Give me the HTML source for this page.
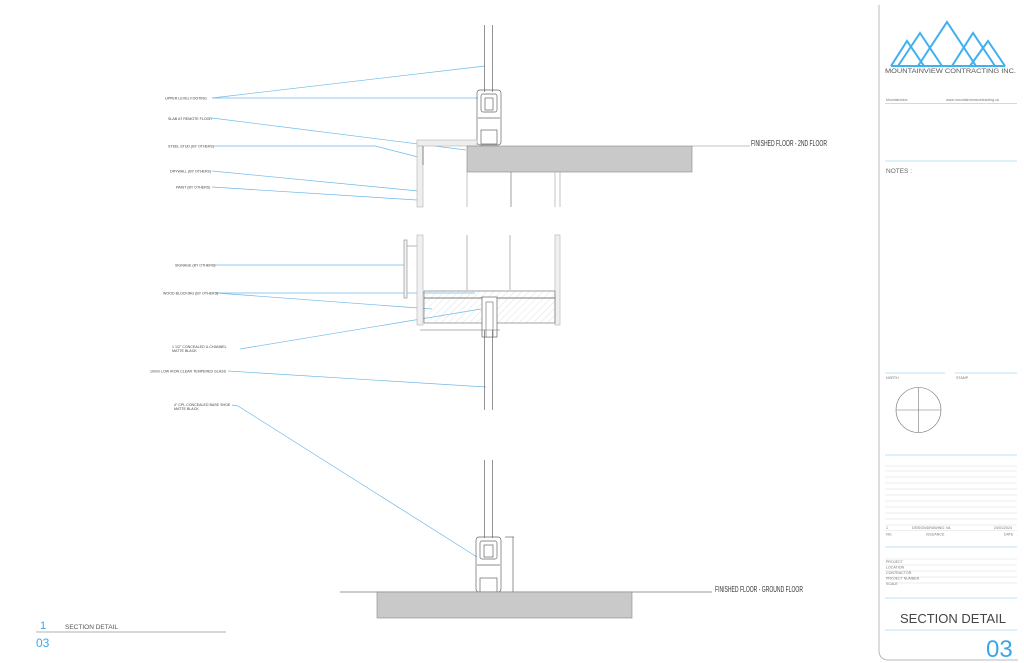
<!DOCTYPE html>
<html><head><meta charset="utf-8"><style>
html,body{margin:0;padding:0;background:#fff;}
svg{display:block;font-family:"Liberation Sans",sans-serif;}
</style></head><body>
<svg width="1024" height="663" viewBox="0 0 1024 663" xmlns="http://www.w3.org/2000/svg">
<defs>
<pattern id="h" width="5" height="5" patternUnits="userSpaceOnUse" patternTransform="rotate(45)">
<line x1="0" y1="0" x2="0" y2="5" stroke="#ccc" stroke-width="0.6"/></pattern>
</defs>
<rect width="1024" height="663" fill="#fff"/>
<g stroke="#6bb8e8" stroke-width="0.7" fill="none">
<line x1="212" y1="98" x2="485" y2="66"/>
<line x1="212" y1="98" x2="478" y2="98"/>
<line x1="212" y1="118" x2="466" y2="150"/>
<polyline points="214,146 375,146 422,158"/>
<line x1="212" y1="171" x2="418" y2="191"/>
<line x1="212" y1="187" x2="417" y2="200"/>
<line x1="214" y1="265" x2="405" y2="265"/>
<line x1="216" y1="293" x2="475" y2="293"/>
<line x1="216" y1="293" x2="432" y2="309"/>
<line x1="240" y1="349" x2="481" y2="309"/>
<line x1="228" y1="371" x2="486" y2="387"/>
<polyline points="232,405 238,406 477,557"/>
</g>
<g font-size="3.6" fill="#444">
<text x="165" y="99.5">UPPER LEVEL FOOTING</text>
<text x="168" y="120">SLAB AT REMOTE FLOOR</text>
<text x="168" y="147.5">STEEL STUD (BY OTHERS)</text>
<text x="170" y="172.5">DRYWALL (BY OTHERS)</text>
<text x="176" y="188.5">PAINT (BY OTHERS)</text>
<text x="175" y="266.5">SIGNAGE (BY OTHERS)</text>
<text x="163" y="294.5">WOOD BLOCKING (BY OTHERS)</text>
<text x="172" y="348">1 1/2" CONCEALED U-CHANNEL</text>
<text x="172" y="352">MATTE BLACK</text>
<text x="150" y="372.5">10mm LOW IRON CLEAR TEMPERED GLASS</text>
<text x="174" y="406">4" CPL CONCEALED BASE SHOE</text>
<text x="174" y="410">MATTE BLACK</text>
</g>
<g stroke="#666" stroke-width="0.7" fill="none">
<line x1="484.5" y1="25" x2="484.5" y2="92"/>
<line x1="492.5" y1="25" x2="492.5" y2="92"/>
<rect x="477" y="90" width="24" height="55" rx="3"/>
<rect x="481" y="94" width="16" height="18" rx="2"/>
<rect x="485" y="98" width="8" height="12"/>
<line x1="478" y1="118" x2="500" y2="118"/>
<rect x="481" y="130" width="16" height="14"/>
<rect x="417" y="140" width="60" height="6" fill="#eee" stroke="#bbb"/>
<rect x="417" y="146" width="6" height="61" fill="#eee" stroke="#bbb"/>
<line x1="423" y1="146" x2="423" y2="165"/>
</g>
<rect x="467" y="146" width="225" height="26" fill="#c9c9c9" stroke="#888" stroke-width="0.6"/>
<line x1="692" y1="146" x2="750" y2="146" stroke="#888" stroke-width="0.6"/>
<text x="751" y="146" font-size="8" fill="#333" textLength="76" lengthAdjust="spacingAndGlyphs">FINISHED FLOOR - 2ND FLOOR</text>
<g stroke="#aaa" stroke-width="0.7">
<line x1="467" y1="172" x2="467" y2="207"/>
<line x1="511" y1="172" x2="511" y2="207" stroke="#777"/>
<line x1="555" y1="172" x2="555" y2="207"/>
<line x1="560" y1="172" x2="560" y2="207"/>
</g>
<g stroke="#999" stroke-width="0.7" fill="none">
<rect x="404" y="240" width="3" height="58" fill="#f2f2f2"/>
<line x1="407" y1="246" x2="417" y2="246"/>
<rect x="417" y="235" width="6" height="90" fill="#f0f0f0" stroke="#bbb"/>
<line x1="467" y1="235" x2="467" y2="290"/>
<line x1="510" y1="235" x2="510" y2="290"/>
<rect x="555" y="235" width="5" height="90" fill="#f0f0f0" stroke="#bbb"/>
</g>
<rect x="424" y="291" width="131" height="7" fill="url(#h)" stroke="#666" stroke-width="0.6"/>
<rect x="424" y="298" width="131" height="25" fill="url(#h)" stroke="#666" stroke-width="0.6"/>
<rect x="482" y="297" width="15" height="40" fill="#fff" stroke="#666" stroke-width="0.7"/>
<rect x="486" y="302" width="7" height="35" fill="#fff" stroke="#666" stroke-width="0.6"/>
<line x1="420" y1="330" x2="500" y2="330" stroke="#666" stroke-width="0.5"/>
<g stroke="#666" stroke-width="0.7">
<line x1="484.5" y1="330" x2="484.5" y2="410"/>
<line x1="492.5" y1="330" x2="492.5" y2="410"/>
<line x1="484.5" y1="460" x2="484.5" y2="538"/>
<line x1="492.5" y1="460" x2="492.5" y2="538"/>
</g>
<g stroke="#666" stroke-width="0.7" fill="none">
<rect x="476" y="537" width="25" height="55" rx="3"/>
<rect x="480" y="541" width="17" height="18" rx="2"/>
<rect x="484" y="545" width="9" height="12"/>
<line x1="477" y1="565" x2="500" y2="565"/>
<rect x="480" y="578" width="17" height="14"/>
<line x1="505" y1="537" x2="514" y2="537"/>
<line x1="513" y1="537" x2="513" y2="592"/>
</g>
<line x1="340" y1="592" x2="712" y2="592" stroke="#777" stroke-width="0.7"/>
<rect x="377" y="592" width="255" height="26" fill="#c9c9c9" stroke="#888" stroke-width="0.6"/>
<text x="715" y="592" font-size="8" fill="#333" textLength="88" lengthAdjust="spacingAndGlyphs">FINISHED FLOOR - GROUND FLOOR</text>
<text x="40" y="629" font-size="11" fill="#3aa6e6">1</text>
<text x="65" y="629" font-size="6.5" fill="#555">SECTION DETAIL</text>
<line x1="36" y1="632" x2="226" y2="632" stroke="#999" stroke-width="0.7"/>
<text x="36" y="647" font-size="12" fill="#3aa6e6">03</text>
<path d="M879 5 V650 Q879 660 889 660 H1018" fill="none" stroke="#bbb" stroke-width="1"/>
<g stroke="#3fb0f0" stroke-width="2" fill="none" stroke-linejoin="miter">
<polyline points="891,66 907,41 924,66"/>
<polyline points="898,66 920,33 942,66"/>
<polyline points="918,66 947,22 976,66"/>
<polyline points="952,66 973,33 995,66"/>
<polyline points="970,66 988,41 1005,66"/>
<line x1="891" y1="66" x2="1005" y2="66"/>
</g>
<text x="885" y="73" font-size="6.2" fill="#555" textLength="131" lengthAdjust="spacingAndGlyphs">MOUNTAINVIEW CONTRACTING INC.</text>
<text x="886" y="101" font-size="3.5" fill="#777">Mountainview</text>
<text x="946" y="101" font-size="3.6" fill="#777">www.mountainviewcontracting.ca</text>
<line x1="885" y1="103.5" x2="1017" y2="103.5" stroke="#a8d6f2" stroke-width="0.8"/>
<line x1="885" y1="161" x2="1017" y2="161" stroke="#a8d6f2" stroke-width="0.8"/>
<text x="886" y="173" font-size="6.5" fill="#666">NOTES :</text>
<line x1="885" y1="373" x2="945" y2="373" stroke="#a8d6f2" stroke-width="0.8"/>
<line x1="955" y1="373" x2="1017" y2="373" stroke="#a8d6f2" stroke-width="0.8"/>
<text x="886" y="379" font-size="3.6" fill="#777">NORTH</text>
<text x="956" y="379" font-size="3.6" fill="#777">STAMP</text>
<circle cx="918.5" cy="410" r="22.5" fill="none" stroke="#777" stroke-width="0.6"/>
<line x1="896" y1="410" x2="941" y2="410" stroke="#777" stroke-width="0.6"/>
<line x1="918.5" y1="387.5" x2="918.5" y2="432.5" stroke="#777" stroke-width="0.6"/>
<line x1="885" y1="455" x2="1017" y2="455" stroke="#a8d6f2" stroke-width="0.8"/>
<g stroke="#ddd" stroke-width="0.6">
<line x1="885" y1="466" x2="1017" y2="466"/><line x1="885" y1="471" x2="1017" y2="471"/>
<line x1="885" y1="477" x2="1017" y2="477"/><line x1="885" y1="483" x2="1017" y2="483"/>
<line x1="885" y1="489" x2="1017" y2="489"/><line x1="885" y1="495" x2="1017" y2="495"/>
<line x1="885" y1="501" x2="1017" y2="501"/><line x1="885" y1="507" x2="1017" y2="507"/>
<line x1="885" y1="513" x2="1017" y2="513"/><line x1="885" y1="519" x2="1017" y2="519"/>
<line x1="885" y1="525" x2="1017" y2="525"/><line x1="885" y1="530.5" x2="1017" y2="530.5"/>
<line x1="885" y1="559" x2="1017" y2="559"/><line x1="885" y1="565" x2="1017" y2="565"/>
<line x1="885" y1="571" x2="1017" y2="571"/><line x1="885" y1="577" x2="1017" y2="577"/>
<line x1="885" y1="583" x2="1017" y2="583"/>
</g>
<g font-size="3.6" fill="#777">
<text x="886" y="529">1</text><text x="912" y="529">DESIGN/DRAWING: VA</text><text x="994" y="529">24/01/2024</text>
<text x="886" y="535.5">NO.</text><text x="926" y="535.5">ISSUANCE</text><text x="1004" y="535.5">DATE</text>
<text x="886" y="563">PROJECT</text><text x="886" y="568.5">LOCATION</text><text x="886" y="574">CONTRACTOR</text>
<text x="886" y="579.5">PROJECT NUMBER</text><text x="886" y="585">SCALE</text>
</g>
<line x1="885" y1="547" x2="1017" y2="547" stroke="#a8d6f2" stroke-width="0.8"/>
<line x1="885" y1="598" x2="1017" y2="598" stroke="#a8d6f2" stroke-width="0.8"/>
<text x="900" y="623" font-size="13" fill="#444">SECTION DETAIL</text>
<line x1="885" y1="630" x2="1017" y2="630" stroke="#a8d6f2" stroke-width="0.8"/>
<text x="986" y="657" font-size="24" fill="#3aa6e6">03</text>
</svg>
</body></html>
